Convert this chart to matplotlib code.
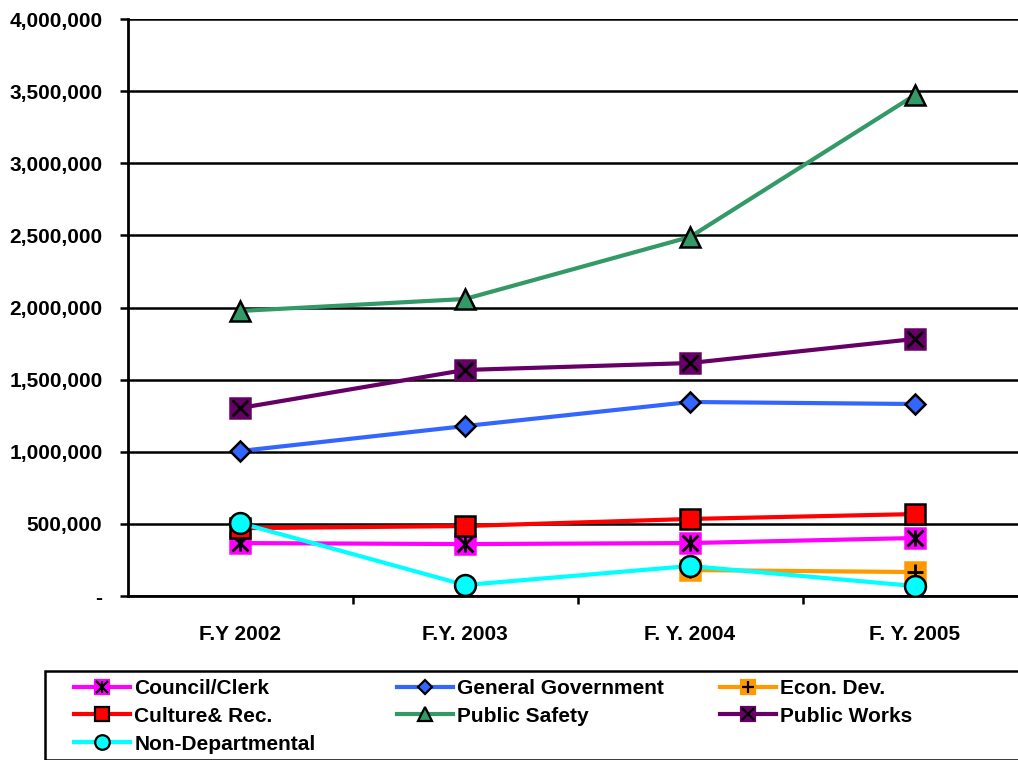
import numpy as np
import matplotlib
matplotlib.use("Agg")
import matplotlib.pyplot as plt
from matplotlib.lines import Line2D
from matplotlib.patches import Rectangle
from matplotlib.ticker import FuncFormatter
from matplotlib.legend_handler import HandlerTuple

plt.rcParams["font.family"] = ["Liberation Sans", "DejaVu Sans"]
plt.rcParams["font.weight"] = "bold"

years = ["F.Y 2002", "F.Y. 2003", "F. Y. 2004", "F. Y. 2005"]

council = [367000, 360000, 367000, 402000]
general_gov = [1005000, 1178000, 1345000, 1331000]
econ_dev = [np.nan, np.nan, 180000, 166000]
culture = [470000, 485000, 534000, 568000]
public_safety = [1976000, 2059000, 2489000, 3473000]
public_works = [1303000, 1567000, 1615000, 1782000]
non_dept = [506000, 76000, 208000, 69000]

# (label, values, line colour, marker, marker face, marker edge, overlay glyphs)
series = [
    ("Council/Clerk", council, "#FF00FF", "s", "#FF00FF", "#FF00FF", ["x", "|"]),
    ("General Government", general_gov, "#3366FF", "D", "#3366FF", "black", []),
    ("Econ. Dev.", econ_dev, "#FF9900", "s", "#FF9900", "#FF9900", ["+"]),
    ("Culture& Rec.", culture, "#FF0000", "s", "#FF0000", "black", []),
    ("Public Safety", public_safety, "#339966", "^", "#339966", "black", []),
    ("Public Works", public_works, "#660066", "s", "#660066", "#660066", ["x"]),
    ("Non-Departmental", non_dept, "#00FFFF", "o", "#00FFFF", "black", []),
]

msize = {"s": 14, "D": 10, "^": 14, "o": 15}
FS = 15

fig = plt.figure(figsize=(10.18, 7.6), dpi=100)
ax = fig.add_axes([127.5 / 1018, 1 - 596 / 760, 900 / 1018, 577 / 760])

x = np.arange(len(years))
handles = {}
for i, (label, vals, col, mk, fc, ec, overlay) in enumerate(series):
    z = 3 + i
    ax.plot(x, vals, color=col, lw=3, zorder=z, solid_capstyle="butt")
    ax.plot(x, vals, ls="none", marker=mk, ms=msize[mk], mfc=fc, mec=ec,
            mew=1.8, zorder=z + 0.1)
    for g in overlay:
        ax.plot(x, vals, ls="none", marker=g, ms=12, mec="black", mew=2,
                zorder=z + 0.2)
    parts = [Line2D([], [], color=col, lw=3, marker=mk, ms=msize[mk] * 0.7,
                    mfc=fc, mec=ec, mew=1.6)]
    for g in overlay:
        parts.append(Line2D([], [], ls="none", marker=g, ms=9, mec="black", mew=1.6))
    handles[label] = tuple(parts)

ax.set_xlim(-0.5, 3.5)
ax.set_ylim(0, 4000000)
ax.set_yticks(np.arange(0, 4000001, 500000))
ax.yaxis.set_major_formatter(FuncFormatter(lambda v, p: "-" if v == 0 else f"{v:,.0f}"))
ax.grid(axis="y", color="black", lw=1.8, zorder=1)
ax.set_axisbelow(True)

ax.set_xticks(x)
ax.set_xticklabels(years)
ax.set_xticks([0.5, 1.5, 2.5], minor=True)
ax.tick_params(axis="x", which="major", length=0, pad=21, labelsize=FS)
ax.tick_params(axis="x", which="minor", length=6, width=1.8, direction="out")
ax.tick_params(axis="y", length=6, width=1.8, pad=12, labelsize=FS)

for s in ["top", "right"]:
    ax.spines[s].set_visible(False)
for s in ["left", "bottom"]:
    ax.spines[s].set_linewidth(2)

# legend frame
fig.patches.append(Rectangle((45 / 1018, 0), 1.0, (760 - 671) / 760,
                             transform=fig.transFigure, fill=False,
                             edgecolor="black", lw=1.8))

columns = [
    (74, ["Council/Clerk", "Culture& Rec.", "Non-Departmental"]),
    (397, ["General Government", "Public Safety"]),
    (720, ["Econ. Dev.", "Public Works"]),
]
for px, labs in columns:
    fig.legend([handles[l] for l in labs], labs,
               loc="upper left", bbox_to_anchor=(px / 1018, 1 - 679 / 760),
               bbox_transform=fig.transFigure, frameon=False,
               fontsize=FS, handlelength=2.7, handletextpad=0.2,
               labelspacing=0.42, borderpad=0, borderaxespad=0,
               handler_map={tuple: HandlerTuple(ndivide=1, pad=0)})

fig.savefig("out.png", dpi=100)
